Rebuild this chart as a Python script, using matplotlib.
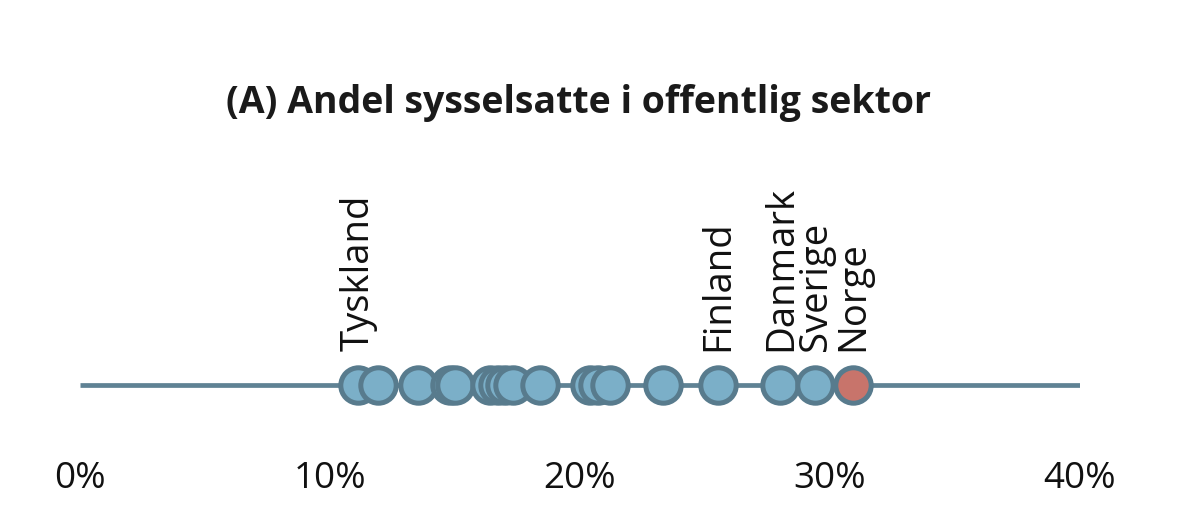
import matplotlib
matplotlib.use("Agg")
import matplotlib.pyplot as plt

# Data (percent share of employment in public sector)
values = [11.1, 11.9, 13.5, 14.8, 15.0, 16.4, 16.7, 17.0, 17.3, 18.4,
          20.4, 20.7, 21.2, 23.3, 25.5, 28.0, 29.4, 30.9]
names = ["Tyskland", "", "", "", "", "", "", "", "", "",
         "", "", "", "", "Finland", "Danmark", "Sverige", "Norge"]
highlight = "Norge"
ticks = [0, 10, 20, 30, 40]
tick_labels = ["0%", "10%", "20%", "30%", "40%"]
title = "(A) Andel sysselsatte i offentlig sektor"

W, H = 1200, 528
fig = plt.figure(figsize=(W / 100, H / 100), dpi=100)
ax = fig.add_axes([80 / W, 0, 1000 / W, 1])
ax.set_xlim(0, 40)
ax.set_ylim(H, 0)
ax.axis("off")

line_y = 385
fill = "#7bafc8"
edge = "#587b8d"
red = "#c8746b"

ax.plot([ticks[0], ticks[-1] + 0.1], [line_y, line_y], color="#5f8294", lw=3.4,
        solid_capstyle="butt", zorder=1)

for v, n in zip(values, names):
    fc = red if n == highlight else fill
    ax.plot([v], [line_y], marker="o", ms=25.5, mew=3.6, mfc=fc, mec=edge,
            zorder=2, clip_on=False)
    if n:
        ax.text(v + 0.05, 351, n, rotation=90, ha="center", va="bottom",
                fontsize=27.5, family="Open Sans", color="#111111")

for t, lab in zip(ticks, tick_labels):
    ax.text(t, 488, lab, ha="center", va="baseline", fontsize=26.5,
            family="Open Sans", color="#111111")

fig.text(578 / W, 1 - 113 / H, title, ha="center", va="baseline",
         fontsize=27, fontweight="bold", family="Open Sans", color="#1a1a1a")

fig.savefig("out.png", dpi=100, facecolor="white")
